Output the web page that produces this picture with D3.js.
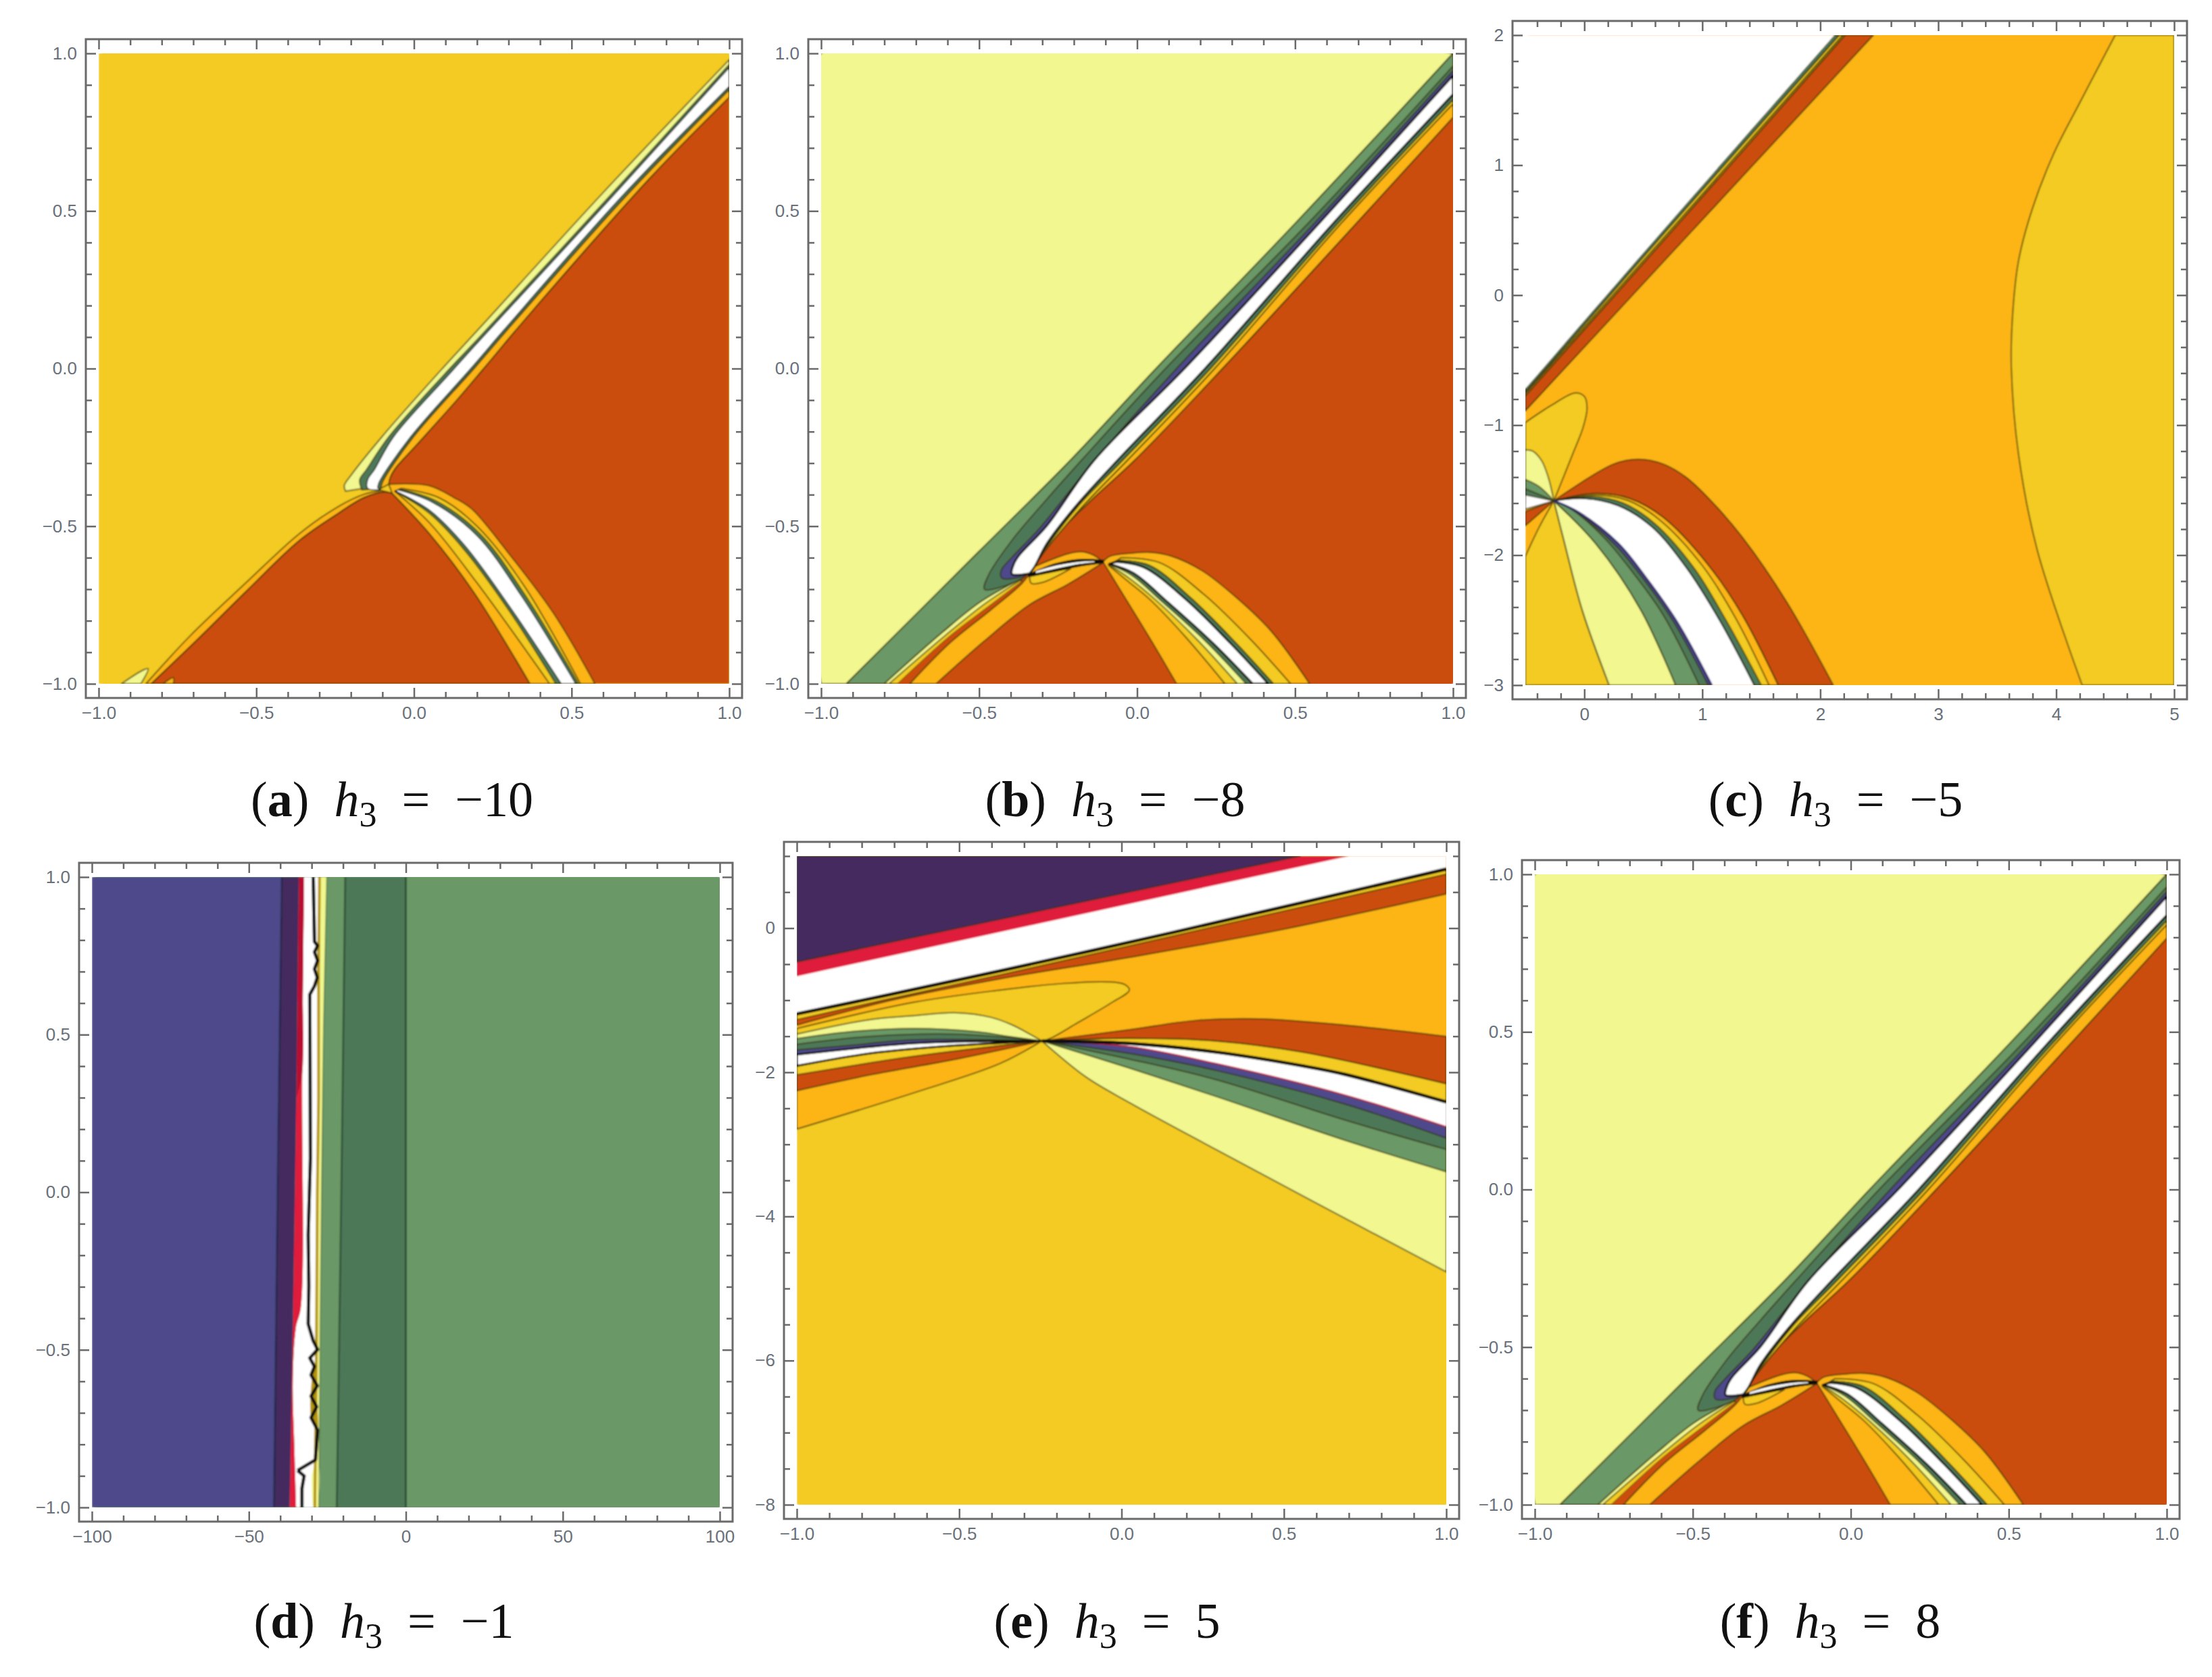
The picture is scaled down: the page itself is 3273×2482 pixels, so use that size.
<!DOCTYPE html>
<html>
<head>
<meta charset="utf-8">
<title>h3 regions</title>
<script src="https://cdnjs.cloudflare.com/ajax/libs/d3/7.8.5/d3.min.js"></script>
<style>
    html, body { margin: 0; padding: 0; background: #ffffff; }
    svg { display: block; }
    .tick text { font-family: "Liberation Sans", sans-serif; font-size: 26px; fill: #68707a; }
    .caption { font-family: "Liberation Serif", serif; font-size: 74px; fill: #111111; }
</style>
</head>
<body>
<svg id="chart" width="3273" height="2482"></svg>
<script>
/* =========================================================
   Captions and axis ticks
   ========================================================= */

const captionLetters = ["a", "b", "c", "d", "e", "f"];
const captionValues  = ["\u221210", "\u22128", "\u22125", "\u22121", "5", "8"];

const unitMajor = [-1, -0.5, 0, 0.5, 1];
const unitMinor = [-0.9, -0.8, -0.7, -0.6, -0.4, -0.3, -0.2, -0.1, 0.1, 0.2, 0.3, 0.4, 0.6, 0.7, 0.8, 0.9];

const cMajorX = [0, 1, 2, 3, 4, 5];
const cMinorX = [-0.4, -0.2, 0.2, 0.4, 0.6, 0.8, 1.2, 1.4, 1.6, 1.8, 2.2, 2.4, 2.6, 2.8, 3.2, 3.4, 3.6, 3.8, 4.2, 4.4, 4.6, 4.8];
const cMajorY = [-3, -2, -1, 0, 1, 2];
const cMinorY = [-2.8, -2.6, -2.4, -2.2, -1.8, -1.6, -1.4, -1.2, -0.8, -0.6, -0.4, -0.2, 0.2, 0.4, 0.6, 0.8, 1.2, 1.4, 1.6, 1.8];

const dMajorX = [-100, -50, 0, 50, 100];
const dMinorX = [-90, -80, -70, -60, -40, -30, -20, -10, 10, 20, 30, 40, 60, 70, 80, 90];

const eMajorY = [-8, -6, -4, -2, 0];
const eMinorY = [-7.5, -7, -6.5, -5.5, -5, -4.5, -3.5, -3, -2.5, -1.5, -1, -0.5, 0.5, 1];

/* =========================================================
   Region boundaries, panel (a)
   ========================================================= */

const aPaleTop   = [[-0.217, -0.389], [-0.221, -0.371], [-0.2, -0.339], [-0.102, -0.217], [0.09, 0], [0.214, 0.135], [0.597, 0.555], [1, 0.98]];
const aGreenTop  = [[-0.165, -0.385], [-0.172, -0.353], [-0.15, -0.32], [-0.08, -0.217], [0.095, -0.02], [0.21, 0.102], [0.605, 0.53], [1, 0.965]];
const aWhiteTop  = [[-0.106, -0.385], [-0.147, -0.38], [-0.147, -0.353], [-0.125, -0.32], [-0.065, -0.217], [0.11, -0.02], [0.22, 0.102], [0.615, 0.53], [1, 0.955]];
const aWhiteBot  = [[1, 0.895], [0.66, 0.547], [0.285, 0.122], [0.18, 0], [-0.011, -0.217], [-0.11, -0.36], [-0.115, -0.378]];
const aOrangeTop = [[1, 0.885], [0.672, 0.547], [0.295, 0.122], [0.19, 0], [-0.002, -0.217], [-0.1, -0.36], [-0.105, -0.38]];
const aRedEdge   = [[-0.08, -0.367], [-0.075, -0.345], [-0.061, -0.319], [0.005, -0.246], [0.138, -0.098], [0.221, 0], [0.367, 0.173], [0.75, 0.606], [1, 0.861]];
const aHump      = [[0.574, -1], [0.444, -0.778], [0.291, -0.574], [0.184, -0.446], [0.128, -0.41], [0.046, -0.371], [-0.08, -0.367]];
const aTriLeft   = [[-0.833, -1], [-0.693, -0.866], [-0.529, -0.704], [-0.365, -0.547], [-0.242, -0.461], [-0.159, -0.41], [-0.094, -0.392], [-0.069, -0.396]];
const aTriRight  = [[-0.069, -0.396], [0.05, -0.525], [0.19, -0.71], [0.368, -1]];
const aStripLeft = [[-0.85, -1], [-0.71, -0.848], [-0.529, -0.676], [-0.365, -0.525], [-0.242, -0.439], [-0.159, -0.399], [-0.102, -0.387]];
const aLowGoldA  = [[-0.06, -0.39], [0.05, -0.49], [0.2, -0.68], [0.43, -1]];
const aLowGoldB  = [[0.528, -1], [0.35, -0.69], [0.2, -0.5], [0.08, -0.41], [-0.04, -0.38]];
const aLowGreenA = [[-0.06, -0.39], [0.05, -0.46], [0.16, -0.575], [0.3, -0.765], [0.45, -1]];
const aLowGreenB = [[0.522, -1], [0.35, -0.715], [0.21, -0.525], [0.07, -0.42], [-0.045, -0.382]];
const aLowWhiteA = [[-0.06, -0.388], [0.05, -0.45], [0.16, -0.56], [0.3, -0.75], [0.467, -1]];
const aLowWhiteB = [[0.513, -1], [0.34, -0.72], [0.2, -0.53], [0.06, -0.425], [-0.05, -0.385]];
const aSpeckA    = [[-0.928, -1], [-0.858, -0.956], [-0.843, -0.952], [-0.866, -1]];
const aSpeckB    = [[-0.796, -1], [-0.763, -0.981], [-0.763, -1]];

/* =========================================================
   Panels (b) and (f), the two pictures are the same shape
   ========================================================= */

const bPaleEdge   = [[-0.92, -1], [-0.5, -0.58], [-0.21, -0.29], [0.06, 0], [0.5, 0.46], [1, 1]];
const bRedEdge    = [[-0.324, -0.628], [-0.286, -0.563], [-0.155, -0.427], [-0.007, -0.29], [0.27, 0], [1, 0.797]];
const bOrangeEdge = [[-0.324, -0.628], [-0.3, -0.59], [-0.175, -0.44], [-0.03, -0.29], [0.245, 0], [0.645, 0.46], [1, 0.84]];
const bGoldEdge   = [[1, 0.853], [0.635, 0.46], [0.232, 0], [-0.045, -0.29], [-0.19, -0.44], [-0.31, -0.6], [-0.324, -0.628]];
const bDarkTop    = [[-0.36, -0.665], [-0.42, -0.69], [-0.483, -0.7], [-0.47, -0.655], [-0.396, -0.545], [-0.286, -0.415], [-0.175, -0.29], [0.09, 0], [0.55, 0.47], [1, 0.96]];
const bBlueTop    = [[-0.36, -0.66], [-0.428, -0.665], [-0.43, -0.64], [-0.396, -0.599], [-0.308, -0.506], [-0.15, -0.31], [0.125, 0], [0.56, 0.46], [1, 0.945]];
const bWhiteTop   = [[-0.34, -0.65], [-0.396, -0.652], [-0.39, -0.62], [-0.373, -0.592], [-0.286, -0.499], [-0.135, -0.29], [0.15, 0], [0.575, 0.46], [1, 0.93]];
const bWhiteRight = [[1, 0.87], [0.62, 0.46], [0.215, 0], [-0.061, -0.29], [-0.198, -0.441], [-0.286, -0.556], [-0.324, -0.628], [-0.34, -0.65]];
const bStripGreen = [[-0.8, -1], [-0.614, -0.835], [-0.494, -0.739], [-0.373, -0.67]];
const bStripOrng  = [[-0.785, -1], [-0.605, -0.845], [-0.48, -0.745], [-0.37, -0.672]];
const bStripRed   = [[-0.757, -1], [-0.593, -0.85], [-0.461, -0.749], [-0.363, -0.674]];
const bWedgeLeft  = [[-0.719, -1], [-0.593, -0.871], [-0.461, -0.764], [-0.363, -0.68], [-0.324, -0.628]];
const bLensTop    = [[-0.324, -0.628], [-0.22, -0.588], [-0.176, -0.581], [-0.138, -0.592], [-0.108, -0.613]];
const bTriLeft    = [[-0.636, -1], [-0.483, -0.864], [-0.34, -0.749], [-0.22, -0.685], [-0.11, -0.617]];
const bLensLow    = [[-0.34, -0.65], [-0.335, -0.681], [-0.297, -0.678], [-0.21, -0.635]];
const bArcTop     = [[-0.345, -0.652], [-0.26, -0.618], [-0.18, -0.604], [-0.105, -0.607]];
const bArcLow     = [[-0.105, -0.618], [-0.18, -0.628], [-0.26, -0.645], [-0.345, -0.662]];
const bArcInTop   = [[-0.32, -0.643], [-0.26, -0.626], [-0.18, -0.613], [-0.135, -0.611]];
const bArcInLow   = [[-0.135, -0.614], [-0.18, -0.619], [-0.26, -0.635], [-0.32, -0.649]];
const bHump       = [[-0.108, -0.613], [-0.085, -0.595], [-0.012, -0.585], [0.043, -0.583], [0.108, -0.595], [0.207, -0.642], [0.316, -0.728], [0.426, -0.835], [0.546, -1]];
const bTriRight   = [[-0.108, -0.613], [-0.067, -0.68], [0.043, -0.86], [0.125, -1]];
const bLowGoldA   = [[-0.09, -0.625], [-0.034, -0.671], [0.043, -0.735], [0.152, -0.85], [0.278, -1]];
const bLowPaleA   = [[-0.09, -0.622], [-0.025, -0.665], [0.06, -0.735], [0.19, -0.86], [0.317, -1]];
const bLowDarkA   = [[-0.09, -0.62], [-0.018, -0.655], [0.08, -0.74], [0.22, -0.868], [0.345, -1]];
const bLowWhiteA  = [[-0.088, -0.62], [-0.011, -0.649], [0.098, -0.742], [0.24, -0.871], [0.366, -1]];
const bLowWhiteB  = [[-0.067, -0.613], [0.02, -0.63], [0.152, -0.73], [0.295, -0.871], [0.415, -1]];
const bLowDarkB   = [[-0.06, -0.608], [0.04, -0.625], [0.17, -0.728], [0.31, -0.868], [0.431, -1]];
const bLowGoldB   = [[-0.05, -0.6], [0.07, -0.615], [0.21, -0.715], [0.36, -0.86], [0.486, -1]];

/* =========================================================
   Panel (c)
   ========================================================= */

const cWhiteEdge  = [[-0.5, -0.72], [0.64, 0.47], [2.12, 2]];
const cDarkStrip  = [[-0.5, -0.745], [0.67, 0.47], [2.16, 2]];
const cGoldStrip  = [[-0.5, -0.757], [0.7, 0.47], [2.19, 2]];
const cRedTop     = [[-0.5, -0.775], [0.72, 0.47], [2.21, 2]];
const cRedLow     = [[-0.5, -0.89], [0.888, 0.47], [2.45, 2]];
const cGoldRight  = [[4.5, 2], [4.2, 1.48], [3.98, 1.09], [3.8, 0.67], [3.68, 0.26], [3.628, -0.19], [3.62, -0.564], [3.68, -1.22], [3.84, -1.963], [4.22, -3]];
const cLoop       = [[-0.5, -0.98], [-0.287, -0.852], [-0.076, -0.752], [0, -0.779], [0.023, -0.87], [-0.01, -1.016], [-0.096, -1.217], [-0.258, -1.582]];
const cPaleLeft   = [[-0.5, -1.19], [-0.44, -1.199], [-0.363, -1.272], [-0.306, -1.4], [-0.258, -1.582]];
const cGreenLeft  = [[-0.5, -1.418], [-0.382, -1.473], [-0.258, -1.582]];
const cDarkLeft   = [[-0.5, -1.49], [-0.258, -1.582]];
const cWhiteLeftA = [[-0.5, -1.537], [-0.258, -1.582]];
const cWhiteLeftB = [[-0.258, -1.582], [-0.5, -1.646]];
const cRedLeftA   = [[-0.5, -1.664], [-0.258, -1.582]];
const cRedLeftB   = [[-0.258, -1.582], [-0.5, -1.774]];
const cOrangeLeft = [[-0.5, -2.01], [-0.382, -1.783], [-0.258, -1.582]];
const cNodeDown   = [[-0.258, -1.582], [-0.172, -1.892], [-0.019, -2.42], [0.21, -3]];
const cPaleRight  = [[-0.258, -1.582], [0.096, -1.911], [0.478, -2.42], [0.774, -3]];
const cGreenLine  = [[-0.258, -1.582], [-0.096, -1.655], [0.172, -1.87], [0.4, -2.12], [0.669, -2.46], [0.974, -3]];
const cBlueLine   = [[-0.258, -1.582], [-0.07, -1.67], [0.26, -1.92], [0.49, -2.17], [0.755, -2.51], [1.05, -3]];
const cBlueEdge   = [[-0.258, -1.582], [-0.05, -1.67], [0.287, -1.91], [0.516, -2.166], [0.783, -2.51], [1.08, -3]];
const cWhiteRight = [[-0.258, -1.582], [0, -1.564], [0.287, -1.619], [0.573, -1.783], [0.86, -2.09], [1.146, -2.5], [1.44, -3]];
const cDarkLine   = [[-0.258, -1.582], [0.05, -1.55], [0.33, -1.6], [0.6, -1.76], [0.93, -2.1], [1.2, -2.5], [1.5, -3]];
const cGoldLine   = [[-0.258, -1.582], [0.09, -1.54], [0.37, -1.58], [0.64, -1.73], [1, -2.08], [1.28, -2.48], [1.566, -3]];
const cStripTop   = [[-0.258, -1.582], [0.096, -1.527], [0.382, -1.564], [0.669, -1.71], [1.05, -2.075], [1.337, -2.458], [1.643, -3]];
const cRedArc     = [[-0.258, -1.582], [0.248, -1.3], [0.458, -1.263], [0.669, -1.3], [0.86, -1.4], [1.05, -1.56], [1.337, -1.86], [1.72, -2.367], [2.11, -3]];

/* =========================================================
   Panel (d)
   ========================================================= */

const dZeroLine   = [[0, 1], [0, -1]];
const dDarkEdge   = [[-19.3, 1], [-20.5, 0.04], [-22, -1]];
const dGreenEdge  = [[-25.2, 1], [-26.3, 0.47], [-27.3, -0.43], [-27.7, -1]];
const dYellowEdge = [[-27.5, 1], [-27.8, 0.7], [-27.8, 0.3], [-28.2, 0], [-28.5, -0.5], [-29, -1]];
const dWhiteEdge  = [[-32.4, 1], [-33, 0.377], [-33.4, -0.364], [-35, -0.431], [-36, -0.6], [-35.5, -0.8], [-34.9, -1]];
const dMaroonLow  = [[-32.8, 0.6], [-33, 0.377], [-34.9, 0.3]];
const dPlumEdge   = [[-34.1, 1], [-34.9, 0.3], [-35.9, -0.36], [-37, -1]];
const dBlueEdge   = [[-39.5, 1], [-40.7, 0.11], [-42, -1]];
const dBlack      = [[-29.5, 1], [-29.1, 0.795], [-28.1, 0.782], [-29.1, 0.762], [-28.1, 0.735], [-29.1, 0.708], [-28.2, 0.681], [-29.1, 0.654], [-30.6, 0.627], [-30.4, 0.108], [-31.1, -0.135], [-30.9, -0.296], [-31.1, -0.418], [-29.5, -0.472], [-28.1, -0.499], [-30.6, -0.526], [-29.1, -0.553], [-30.2, -0.58], [-28.2, -0.614], [-30.2, -0.647], [-28.4, -0.681], [-30.2, -0.715], [-28.1, -0.755], [-28.8, -0.849], [-34.5, -0.883]];
const dBlackLow   = [[-34.5, -0.883], [-32.4, -0.9], [-33.1, -0.94], [-33.1, -1]];
const dGoldFill   = [[-28.1, -0.499], [-28.6, -0.6], [-28.2, -0.75], [-30.2, -0.715], [-30, -0.6]];
const dPaleLow    = [[-28.8, -0.849], [-27.7, -0.87], [-27.9, -0.97], [-29.4, -1], [-30, -0.9]];

/* =========================================================
   Panel (e)
   ========================================================= */

const ePlumEdge   = [[-1, -0.47], [0.55, 1]];
const eCrimsonLow = [[0.7, 1], [-1, -0.668]];
const eBlack      = [[-1, -1.19], [-0.734, -0.94], [-0.375, -0.594], [0.157, -0.06], [0.6, 0.4], [1, 0.82]];
const eStripGold  = [[1, 0.75], [0.6, 0.34], [0.157, -0.11], [-0.375, -0.65], [-0.734, -1], [-1, -1.27]];
const eRedLow     = [[1, 0.475], [0.483, -0.03], [0.024, -0.406], [-0.375, -0.704], [-0.707, -1], [-1, -1.346]];
const eLoop       = [[-1, -1.393], [-0.641, -1.03], [-0.375, -0.86], [-0.176, -0.766], [-0.043, -0.745], [0.01, -0.782], [0.024, -0.86], [-0.029, -1.03], [-0.136, -1.315], [-0.215, -1.52], [-0.245, -1.566]];
const ePaleTop    = [[-1, -1.47], [-0.774, -1.268], [-0.641, -1.215], [-0.508, -1.174], [-0.402, -1.237], [-0.335, -1.346], [-0.282, -1.472], [-0.245, -1.566]];
const eGreenTop   = [[-1, -1.534], [-0.84, -1.44], [-0.641, -1.393], [-0.441, -1.44], [-0.348, -1.503], [-0.245, -1.566]];
const eDarkTop    = [[-1, -1.613], [-0.774, -1.503], [-0.508, -1.472], [-0.245, -1.566]];
const eBlueTop    = [[-1, -1.691], [-0.84, -1.629], [-0.641, -1.55], [-0.245, -1.566]];
const eWhiteTop   = [[-1, -1.754], [-0.641, -1.597], [-0.375, -1.566], [-0.245, -1.566]];
const eWhiteLow   = [[-0.245, -1.566], [-0.508, -1.628], [-0.774, -1.738], [-1, -1.911]];
const eGoldLow    = [[-1, -2.036], [-0.641, -1.78], [-0.245, -1.566]];
const eRedLowLeft = [[-0.245, -1.566], [-0.508, -1.817], [-0.774, -2.036], [-1, -2.255]];
const eOrangeLow  = [[-0.245, -1.566], [-0.375, -1.88], [-0.641, -2.287], [-1, -2.788]];
const eRedTop     = [[-0.245, -1.566], [0.024, -1.41], [0.223, -1.284], [0.423, -1.259], [0.689, -1.346], [1, -1.503]];
const eRedBottom  = [[1, -2.16], [0.556, -1.72], [0.29, -1.566], [0.024, -1.53], [-0.245, -1.566]];
const eBlackRight = [[1, -2.412], [0.689, -2.03], [0.556, -1.91], [0.29, -1.72], [0.024, -1.6], [-0.245, -1.566]];
const ePaleEdge   = [[-0.245, -1.566], [-0.109, -2.067], [0.024, -2.42], [0.29, -3.07], [0.543, -3.68], [0.744, -4.16], [1, -4.77]];
const eGreenRight = [[-0.245, -1.566], [0.024, -1.942], [0.29, -2.334], [0.689, -2.945], [1, -3.38]];
const eDarkRight  = [[-0.245, -1.566], [0.024, -1.817], [0.29, -2.1], [0.689, -2.663], [1, -3.07]];
const eBlueRight  = [[-0.245, -1.566], [0.024, -1.738], [0.29, -1.973], [0.689, -2.443], [1, -2.914]];
const eWhiteRight = [[-0.245, -1.566], [0.024, -1.644], [0.29, -1.879], [0.689, -2.318], [1, -2.757]];

/* =========================================================
   Layout and colours
   ========================================================= */

const PAD_X = 19;
const PAD_Y = 21;
const MAJOR_TICK = 15;
const MINOR_TICK = 9;

const GOLD    = "#f3cb21";
const PALE    = "#f2f88f";
const ORANGE  = "#fdb515";
const RED     = "#cb4e10";
const GREEN   = "#6b9866";
const DARK    = "#4e7858";
const BLUE    = "#4d4a8a";
const PLUM    = "#452c5e";
const CRIMSON = "#e01a3c";
const MAROON  = "#b81030";
const WHITE   = "#ffffff";
const BLACK   = "#0c0c0c";
const OLIVE   = "#b5950f";

const CONTOUR = "rgba(50,45,10,0.72)";

const fmtTenth = d3.format(".1f");
const fmtWhole = d3.format("d");

/* =========================================================
   Helpers
   ========================================================= */

const rev = c => c.slice().reverse();
const smooth = d3.curveCatmullRom.alpha(0.5);

// filled contour region, made of smooth runs joined at sharp corners
function poly(fill, ...curves) {
    return { fill, curves, stroke: CONTOUR, width: 2, curve: smooth };
}

function bare(fill, ...curves) {
    return { fill, curves, stroke: "none", width: 0, curve: smooth };
}

function inked(fill, width, ...curves) {
    return { fill, curves, stroke: BLACK, width, curve: smooth };
}

function edge(stroke, width, line, curve) {
    return { fill: "none", curves: [line], stroke, width, curve: curve || smooth, open: true };
}

function corners(x0, x1, y0, y1) {
    return [[x0, y0], [x1, y0], [x1, y1], [x0, y1]];
}

function layerPath(layer, x, y) {
    const run = d3.line()
        .x(p => x(p[0]))
        .y(p => y(p[1]))
        .curve(layer.curve);

    const parts = layer.curves.map((c, i) => {
        const d = run(c).replace(/Z$/, "");
        return i ? d.replace(/^M/, "L") : d;
    });

    return parts.join("") + (layer.open ? "" : "Z");
}

/* =========================================================
   Layer stacks, painted back to front
   ========================================================= */

function layersA() {
    return [
        bare(GOLD, corners(-1, 1, -1, 1)),
        bare(RED, aHump, aRedEdge, [[1, -1]]),
        poly(PALE, aPaleTop, rev(aRedEdge)),
        poly(ORANGE, aOrangeTop, aRedEdge),
        poly(DARK, aGreenTop, aOrangeTop),
        inked(WHITE, 1.5, aWhiteTop, aWhiteBot),
        poly(ORANGE, aStripLeft, rev(aTriLeft)),
        poly(RED, aTriLeft, aTriRight),
        poly(ORANGE, aTriRight, aHump),
        poly(GOLD, aLowGoldA, aLowGoldB),
        poly(DARK, aLowGreenA, aLowGreenB),
        inked(WHITE, 1.5, aLowWhiteA, aLowWhiteB),
        poly(PALE, aSpeckA),
        poly(ORANGE, aSpeckB)
    ];
}

function layersB() {
    return [
        bare(RED, corners(-1, 1, -1, 1)),
        poly(PALE, [[-1, -1], [-1, 1], [1, 1]], rev(bPaleEdge)),
        poly(GREEN, bPaleEdge, rev(bRedEdge), rev(bStripGreen)),
        poly(PALE, bStripGreen, rev(bStripRed)),
        poly(GOLD, bStripOrng, rev(bStripRed)),
        bare(RED, bStripRed, [[-0.324, -0.628]], rev(bWedgeLeft)),
        poly(ORANGE, bWedgeLeft, bLensTop, rev(bTriLeft)),
        poly(GOLD, bLensLow),
        poly(ORANGE, bOrangeEdge, rev(bRedEdge)),
        poly(GOLD, rev(bGoldEdge), rev(bOrangeEdge)),
        poly(DARK, bDarkTop, bGoldEdge),
        poly(BLUE, bBlueTop, bWhiteRight),
        inked(WHITE, 3, bWhiteTop, bWhiteRight),
        poly(ORANGE, bHump, rev(bTriRight)),
        poly(GOLD, bLowGoldA, rev(bLowGoldB)),
        poly(PALE, bLowPaleA, rev(bLowDarkB)),
        poly(DARK, bLowDarkA, rev(bLowDarkB)),
        inked(WHITE, 3, bLowWhiteA, rev(bLowWhiteB)),
        bare(BLACK, bArcTop, bArcLow),
        bare(WHITE, bArcInTop, bArcInLow)
    ];
}

function layersC() {
    return [
        bare(ORANGE, corners(-0.5, 5, -3, 2)),
        poly(GOLD, cGoldRight, [[5, -3], [5, 2]]),
        poly(RED, cRedTop, rev(cRedLow)),
        poly(ORANGE, cGoldStrip, rev(cRedTop)),
        poly(GOLD, cDarkStrip, rev(cGoldStrip)),
        poly(DARK, cWhiteEdge, rev(cDarkStrip)),
        bare(WHITE, cWhiteEdge, [[-0.5, 2]]),
        poly(GOLD, cLoop, [[-0.5, -1.6]]),
        poly(GOLD, [[-0.5, -3]], cOrangeLeft, cNodeDown),
        poly(PALE, cPaleLeft, [[-0.5, -1.6]]),
        poly(GREEN, cGreenLeft, [[-0.5, -1.6]]),
        poly(DARK, cDarkLeft, [[-0.5, -1.6]]),
        poly(WHITE, cWhiteLeftA, cWhiteLeftB),
        poly(RED, cRedLeftA, cRedLeftB),
        poly(PALE, cNodeDown, rev(cPaleRight)),
        poly(GREEN, cPaleRight, rev(cBlueEdge)),
        poly(DARK, cGreenLine, rev(cBlueEdge)),
        poly(BLUE, cBlueLine, rev(cBlueEdge)),
        poly(RED, cRedArc, rev(cStripTop)),
        poly(ORANGE, cStripTop, rev(cWhiteRight)),
        poly(GOLD, cGoldLine, rev(cWhiteRight)),
        poly(DARK, cDarkLine, rev(cWhiteRight)),
        bare(WHITE, cBlueEdge, rev(cWhiteRight)),
        edge(BLACK, 2, cWhiteRight),
        edge("#2e2a6a", 3, cBlueEdge)
    ];
}

function layersD() {
    const line = (stroke, width, pts) => edge(stroke, width, pts, d3.curveLinear);
    return [
        bare(GREEN, corners(-100, 100, -1, 1)),
        bare(DARK, dDarkEdge, rev(dZeroLine)),
        bare(PALE, dYellowEdge, rev(dGreenEdge)),
        bare(WHITE, dWhiteEdge, rev(dYellowEdge)),
        bare(OLIVE, dGoldFill),
        bare(PALE, dPaleLow),
        bare(CRIMSON, dWhiteEdge, rev(dPlumEdge)),
        bare(MAROON, dWhiteEdge.slice(0, 1), dMaroonLow, rev(dPlumEdge.slice(0, 2))),
        bare(PLUM, dPlumEdge, rev(dBlueEdge)),
        bare(BLUE, dBlueEdge, [[-100, -1], [-100, 1]]),
        line("rgba(20,30,60,0.6)", 3, dBlueEdge),
        line("rgba(20,50,30,0.55)", 3, dDarkEdge),
        line("rgba(20,50,30,0.65)", 3, dZeroLine),
        line(OLIVE, 4, dYellowEdge),
        line("rgba(20,50,30,0.3)", 2, dGreenEdge),
        line(BLACK, 5, dBlack),
        line(BLACK, 5, dBlackLow)
    ];
}

function layersE() {
    return [
        bare(GOLD, corners(-1, 1, -8, 1)),
        bare(ORANGE, [[-1, 1], [1, 1], [1, -2.3], [-0.245, -1.566], [-1, -1.393]]),
        bare(WHITE, eBlack, [[1, 1], [-1, 1]]),
        bare(CRIMSON, ePlumEdge, eCrimsonLow),
        poly(PLUM, ePlumEdge, [[-1, 1]]),
        poly(RED, eBlack, eRedLow),
        poly(GOLD, eBlack, eStripGold),
        poly(GOLD, eLoop, [[-1, -1.6]]),
        poly(PALE, ePaleTop, [[-1, -1.6]]),
        poly(GREEN, eGreenTop, [[-1, -1.8]]),
        poly(DARK, eDarkTop, [[-1, -1.8]]),
        poly(BLUE, eBlueTop, [[-1, -1.8]]),
        poly(ORANGE, eOrangeLow, [[-1, -2]]),
        poly(RED, eRedLowLeft, [[-1, -1.95]]),
        poly(GOLD, eWhiteLow, eGoldLow),
        inked(WHITE, 3, eWhiteTop, eWhiteLow),
        poly(RED, eRedTop, eRedBottom),
        poly(GOLD, eRedBottom, rev(eBlackRight)),
        poly(PALE, ePaleEdge, eBlackRight),
        poly(GREEN, eGreenRight, eBlackRight),
        poly(DARK, eDarkRight, eBlackRight),
        poly(BLUE, eBlueRight, eBlackRight),
        bare(WHITE, eWhiteRight, eBlackRight),
        edge(MAROON, 2, eWhiteRight),
        edge(BLACK, 5, eBlackRight),
        edge(BLACK, 5, eBlack)
    ];
}

/* =========================================================
   Panel renderer
   ========================================================= */

const svg = d3.select("#chart");

const defs = svg.append("defs");
defs.append("filter")
    .attr("id", "soft")
    .append("feGaussianBlur")
    .attr("stdDeviation", 1.1);

function tickAxis(maker, scale, values, size, padding, format) {
    return maker(scale)
        .tickValues(values)
        .tickSizeInner(-size)
        .tickSizeOuter(0)
        .tickPadding(padding)
        .tickFormat(format);
}

function drawFrameSide(g, maker, scale, major, minor, offset, format) {
    const side = g.append("g").attr("transform", offset);
    side.append("g").call(tickAxis(maker, scale, minor, MINOR_TICK, 13, ""));
    side.append("g").call(tickAxis(maker, scale, major, MAJOR_TICK, 13, format));
    side.selectAll(".domain").remove();
    side.selectAll(".tick line").attr("stroke", "#6a6a6a").attr("stroke-width", 2.5);
}

function renderPanel(id, box, domainX, domainY, ticks, layers) {
    const x = d3.scaleLinear().domain(domainX).range([box.left, box.right]);
    const y = d3.scaleLinear().domain(domainY).range([box.bottom, box.top]);

    const frame = {
        left: box.left - PAD_X,
        right: box.right + PAD_X,
        top: box.top - PAD_Y,
        bottom: box.bottom + PAD_Y
    };

    const g = svg.append("g").attr("class", `panel-${id}`);

    g.append("clipPath")
        .attr("id", `clip-${id}`)
        .append("rect")
        .attr("x", box.left)
        .attr("y", box.top)
        .attr("width", box.right - box.left)
        .attr("height", box.bottom - box.top);

    g.append("g")
        .attr("clip-path", `url(#clip-${id})`)
        .append("g")
        .attr("filter", "url(#soft)")
        .selectAll("path")
        .data(layers)
        .enter()
        .append("path")
        .attr("d", d => layerPath(d, x, y))
        .attr("fill", d => d.fill)
        .attr("stroke", d => d.stroke)
        .attr("stroke-width", d => d.width)
        .attr("stroke-linejoin", "round");

    drawFrameSide(g, d3.axisBottom, x, ticks.majorX, ticks.minorX, `translate(0,${frame.bottom})`, ticks.fmtX);
    drawFrameSide(g, d3.axisTop, x, ticks.majorX, ticks.minorX, `translate(0,${frame.top})`, "");
    drawFrameSide(g, d3.axisLeft, y, ticks.majorY, ticks.minorY, `translate(${frame.left},0)`, ticks.fmtY);
    drawFrameSide(g, d3.axisRight, y, ticks.majorY, ticks.minorY, `translate(${frame.right},0)`, "");

    g.append("rect")
        .attr("x", frame.left)
        .attr("y", frame.top)
        .attr("width", frame.right - frame.left)
        .attr("height", frame.bottom - frame.top)
        .attr("fill", "none")
        .attr("stroke", "#6a6a6a")
        .attr("stroke-width", 3);
}

function renderCaption(i, cx, baseline) {
    const t = svg.append("text")
        .attr("class", "caption")
        .attr("x", cx)
        .attr("y", baseline)
        .attr("text-anchor", "middle");

    t.append("tspan").text("(");
    t.append("tspan").attr("font-weight", 700).text(captionLetters[i]);
    t.append("tspan").text(")\u2002");
    t.append("tspan").attr("font-style", "italic").text("h");
    t.append("tspan").attr("dy", 15).attr("font-size", 52).text("3");
    t.append("tspan").attr("dy", -15).text("\u2002=\u2002" + captionValues[i]);
}

/* =========================================================
   Page
   ========================================================= */

const unitTicks = {
    majorX: unitMajor, minorX: unitMinor,
    majorY: unitMajor, minorY: unitMinor,
    fmtX: fmtTenth, fmtY: fmtTenth
};

renderPanel("a", { left: 146, right: 1079, top: 79, bottom: 1012 }, [-1, 1], [-1, 1], unitTicks, layersA());
renderPanel("b", { left: 1215, right: 2150, top: 79, bottom: 1012 }, [-1, 1], [-1, 1], unitTicks, layersB());
renderPanel("c", { left: 2257, right: 3217, top: 52, bottom: 1014 }, [-0.5, 5], [-3, 2], {
    majorX: cMajorX, minorX: cMinorX,
    majorY: cMajorY, minorY: cMinorY,
    fmtX: fmtWhole, fmtY: fmtWhole
}, layersC());
renderPanel("d", { left: 136, right: 1065, top: 1298, bottom: 2231 }, [-100, 100], [-1, 1], {
    majorX: dMajorX, minorX: dMinorX,
    majorY: unitMajor, minorY: unitMinor,
    fmtX: fmtWhole, fmtY: fmtTenth
}, layersD());
renderPanel("e", { left: 1179, right: 2140, top: 1267, bottom: 2227 }, [-1, 1], [-8, 1], {
    majorX: unitMajor, minorX: unitMinor,
    majorY: eMajorY, minorY: eMinorY,
    fmtX: fmtTenth, fmtY: fmtWhole
}, layersE());
renderPanel("f", { left: 2271, right: 3206, top: 1294, bottom: 2227 }, [-1, 1], [-1, 1], unitTicks, layersB());

renderCaption(0, 580, 1208);
renderCaption(1, 1650, 1208);
renderCaption(2, 2716, 1208);
renderCaption(3, 568, 2424);
renderCaption(4, 1638, 2424);
renderCaption(5, 2708, 2424);
</script>
</body>
</html>
